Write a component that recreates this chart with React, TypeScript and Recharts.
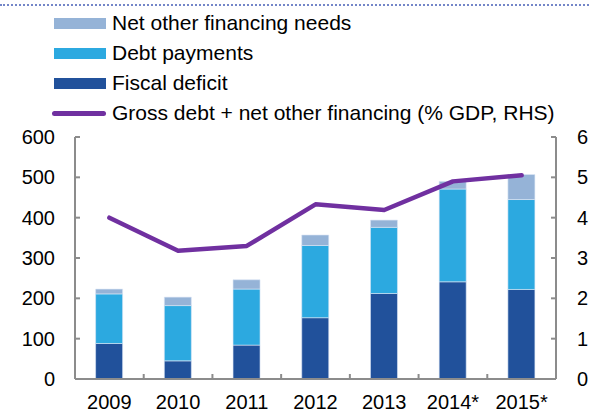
import React from "react";
import {
  ComposedChart, Bar, Line, XAxis, YAxis,
} from "recharts";

const years = ["2009", "2010", "2011", "2012", "2013", "2014*", "2015*"];
const fiscalDeficit = [88, 45, 84, 152, 212, 241, 222];
const debtPayments = [123, 137, 139, 179, 164, 230, 223];
const netOtherNeeds = [12, 21, 23, 26, 18, 19, 62];
const grossDebtPct = [4.0, 3.18, 3.3, 4.33, 4.19, 4.9, 5.05];

const leftTicks = [0, 100, 200, 300, 400, 500, 600];
const rightTicks = [0, 1, 2, 3, 4, 5, 6];
const bandEdges = [1, 2, 3, 4, 5, 6];

const C_OTHER = "#95b3d7";
const C_DEBT = "#2ca9e0";
const C_FISCAL = "#21519b";
const C_LINE = "#7030a0";
const C_AXIS = "#8c8c8c";
const FONT = "'Liberation Sans', Arial, sans-serif";

const data = years.map((year, i) => ({
  year,
  idx: i + 0.5,
  fiscal: fiscalDeficit[i],
  debt: debtPayments[i],
  other: netOtherNeeds[i],
  gross: grossDebtPct[i],
}));

const legendItems = [
  { label: "Net other financing needs", color: C_OTHER, kind: "box" },
  { label: "Debt payments", color: C_DEBT, kind: "box" },
  { label: "Fiscal deficit", color: C_FISCAL, kind: "box" },
  { label: "Gross debt + net other financing (% GDP, RHS)", color: C_LINE, kind: "line" },
];

function ChartLegend() {
  return (
    <div style={{ position: "absolute", left: 52, top: 8, fontFamily: FONT, fontSize: 21, color: "#000" }}>
      {legendItems.map((it) => (
        <div key={it.label} style={{ display: "flex", alignItems: "center", height: 30 }}>
          <div style={{ width: 54, display: "flex", justifyContent: "flex-end", marginRight: 6 }}>
            {it.kind === "box" ? (
              <div style={{ width: 52, height: 11, background: it.color }} />
            ) : (
              <div style={{ width: 55, height: 5, borderRadius: 3, background: it.color }} />
            )}
          </div>
          <span style={{ whiteSpace: "nowrap" }}>{it.label}</span>
        </div>
      ))}
    </div>
  );
}

export default function App() {
  const tickStyle = { fill: "#000", fontSize: 20, fontFamily: FONT };
  return (
    <div style={{ position: "absolute", left: 0, top: 0, width: 589, height: 412, background: "#fff", overflow: "hidden" }}>
      {/* dotted rule left over from the heading above */}
      <div style={{ position: "absolute", left: 0, top: 4, width: 589, borderTop: "2px dotted #7486c8" }} />
      <ChartLegend />
      <ComposedChart
        width={589}
        height={412}
        data={data}
        margin={{ top: 137, right: 0, bottom: 0, left: 0 }}
        barCategoryGap="30%"
      >
        <XAxis
          dataKey="year"
          height={33}
          axisLine={{ stroke: C_AXIS, strokeWidth: 2 }}
          tickLine={false}
          tickSize={0}
          tickMargin={16}
          interval={0}
          tick={tickStyle}
        />
        {/* tick marks between the year bands */}
        <XAxis
          xAxisId="edges"
          type="number"
          dataKey="idx"
          domain={[0, 7]}
          ticks={bandEdges}
          tick={() => <g />}
          mirror
          height={6}
          tickSize={5}
          axisLine={false}
          tickLine={{ stroke: C_AXIS, strokeWidth: 2 }}
        />
        <YAxis
          yAxisId="left"
          width={75}
          domain={[0, 600]}
          ticks={leftTicks}
          tickSize={-5}
          tickMargin={25}
          axisLine={{ stroke: C_AXIS, strokeWidth: 2 }}
          tickLine={{ stroke: C_AXIS, strokeWidth: 2 }}
          tick={tickStyle}
        />
        <YAxis
          yAxisId="right"
          orientation="right"
          width={33}
          domain={[0, 6]}
          ticks={rightTicks}
          tickSize={-5}
          tickMargin={26}
          axisLine={{ stroke: C_AXIS, strokeWidth: 2 }}
          tickLine={{ stroke: C_AXIS, strokeWidth: 2 }}
          tick={{ ...tickStyle, textAnchor: "start" }}
        />
        <Bar yAxisId="left" dataKey="fiscal" stackId="a" fill={C_FISCAL} stroke="#dbe6f5" strokeWidth={0.6} isAnimationActive={false} />
        <Bar yAxisId="left" dataKey="debt" stackId="a" fill={C_DEBT} stroke="#dbe6f5" strokeWidth={0.6} isAnimationActive={false} />
        <Bar yAxisId="left" dataKey="other" stackId="a" fill={C_OTHER} stroke="#dbe6f5" strokeWidth={0.6} isAnimationActive={false} />
        <Line
          yAxisId="right"
          dataKey="gross"
          stroke={C_LINE}
          strokeWidth={4.5}
          strokeLinejoin="round"
          strokeLinecap="round"
          dot={false}
          activeDot={false}
          isAnimationActive={false}
        />
      </ComposedChart>
    </div>
  );
}
